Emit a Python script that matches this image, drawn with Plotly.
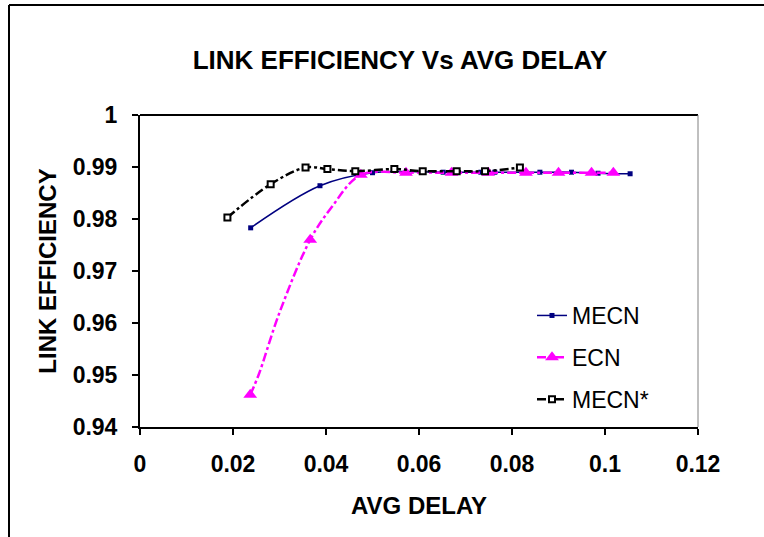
import plotly.graph_objects as go

mecn_x = [0.0238, 0.0387, 0.0500, 0.0652, 0.0733, 0.0763, 0.0860, 0.0928, 0.0985, 0.1054]
mecn_y = [0.9783, 0.9864, 0.9889, 0.9890, 0.9890, 0.9890, 0.9890, 0.9890, 0.9888, 0.9887]

ecn_x = [0.0237, 0.0255, 0.0300, 0.0366, 0.0410, 0.0475, 0.0572, 0.0670, 0.0749, 0.0830, 0.0900, 0.0971, 0.1018]
ecn_y = [0.9462, 0.9500, 0.9620, 0.9760, 0.9820, 0.9885, 0.9889, 0.9889, 0.9889, 0.9889, 0.9889, 0.9889, 0.9889]
ecn_marked = [1, 0, 0, 1, 0, 1, 1, 1, 1, 1, 1, 1, 1]

mecns_x = [0.0188, 0.0281, 0.0356, 0.0403, 0.0463, 0.0547, 0.0608, 0.0681, 0.0742, 0.0817]
mecns_y = [0.9803, 0.9867, 0.9899, 0.9896, 0.9892, 0.9896, 0.9892, 0.9892, 0.9892, 0.9899]

x_ticks = [0, 0.02, 0.04, 0.06, 0.08, 0.1, 0.12]
y_ticks = [0.94, 0.95, 0.96, 0.97, 0.98, 0.99, 1]

FONT = "Liberation Sans, Arial, sans-serif"
MAGENTA = "#FF00FF"

fig = go.Figure()
fig.add_trace(go.Scatter(x=mecn_x, y=mecn_y, name="MECN", mode="lines+markers",
                         legendgroup="a",
                         line=dict(color="#000080", width=1.5, shape="spline"),
                         marker=dict(symbol="square", size=5, color="#000080")))
fig.add_trace(go.Scatter(x=ecn_x, y=ecn_y, name="ECN", mode="lines+markers",
                         legendgroup="b",
                         line=dict(color=MAGENTA, width=2.5, dash="dashdot", shape="spline"),
                         marker=dict(symbol="triangle-up", size=12,
                                     color=[MAGENTA if m else "rgba(0,0,0,0)" for m in ecn_marked])))
fig.add_trace(go.Scatter(x=mecns_x, y=mecns_y, name="MECN*", mode="lines+markers",
                         legendgroup="c",
                         line=dict(color="black", width=2.5, dash="dashdot", shape="spline"),
                         marker=dict(symbol="square", size=6, color="white",
                                     line=dict(color="black", width=2))))

L, R, T, B = 140, 698, 115, 427
W, H = 764, 537
def px(x):
    return (x - L) / (R - L)
def py(y):
    return (B - y) / (B - T)

fig.update_layout(
    width=W, height=H,
    margin=dict(l=L, r=W - R, t=T, b=H - B),
    paper_bgcolor="white", plot_bgcolor="white",
    font=dict(family=FONT, color="black"),
    title=dict(text="<b>LINK EFFICIENCY Vs AVG DELAY</b>", x=400 / W, xanchor="center",
               y=1 - 60 / H, yanchor="middle", font=dict(size=26, family=FONT)),
    xaxis=dict(range=[0, 0.12], tickvals=x_ticks, ticktext=[f"<b>{v:g}</b>" for v in x_ticks],
               showgrid=False, zeroline=False, showline=True, linecolor="black", linewidth=2,
               ticks="outside", ticklen=6, tickwidth=2, tickcolor="black",
               ticklabelstandoff=9, tickfont=dict(size=23),
               title=dict(text="<b>AVG DELAY</b>", font=dict(size=24), standoff=22)),
    yaxis=dict(range=[0.94, 1], tickvals=y_ticks, ticktext=[f"<b>{v:g}</b>" for v in y_ticks],
               showgrid=False, zeroline=False, showline=True, linecolor="black", linewidth=2,
               ticks="outside", ticklen=6, tickwidth=2, tickcolor="black",
               ticklabelstandoff=10, tickfont=dict(size=23),
               title=dict(text="<b>LINK EFFICIENCY</b>", font=dict(size=24), standoff=9)),
    legend=dict(x=px(532), y=py(294), xanchor="left", yanchor="top",
                bgcolor="rgba(0,0,0,0)", font=dict(size=23), traceorder="grouped",
                tracegroupgap=9, itemwidth=30),
    showlegend=True,
)

shapes = [
    dict(type="line", xref="paper", yref="paper", x0=0, x1=1, y0=1, y1=1,
         line=dict(color="black", width=2)),
    dict(type="line", xref="paper", yref="paper", x0=1, x1=1, y0=0, y1=1,
         line=dict(color="#808080", width=1)),
    dict(type="line", xref="paper", yref="paper", x0=px(9), x1=px(9), y0=py(5), y1=py(545),
         line=dict(color="black", width=2)),
    dict(type="line", xref="paper", yref="paper", x0=px(9), x1=px(770), y0=py(5), y1=py(5),
         line=dict(color="black", width=2)),
]
fig.update_layout(shapes=shapes)

fig.write_html("out.html")
